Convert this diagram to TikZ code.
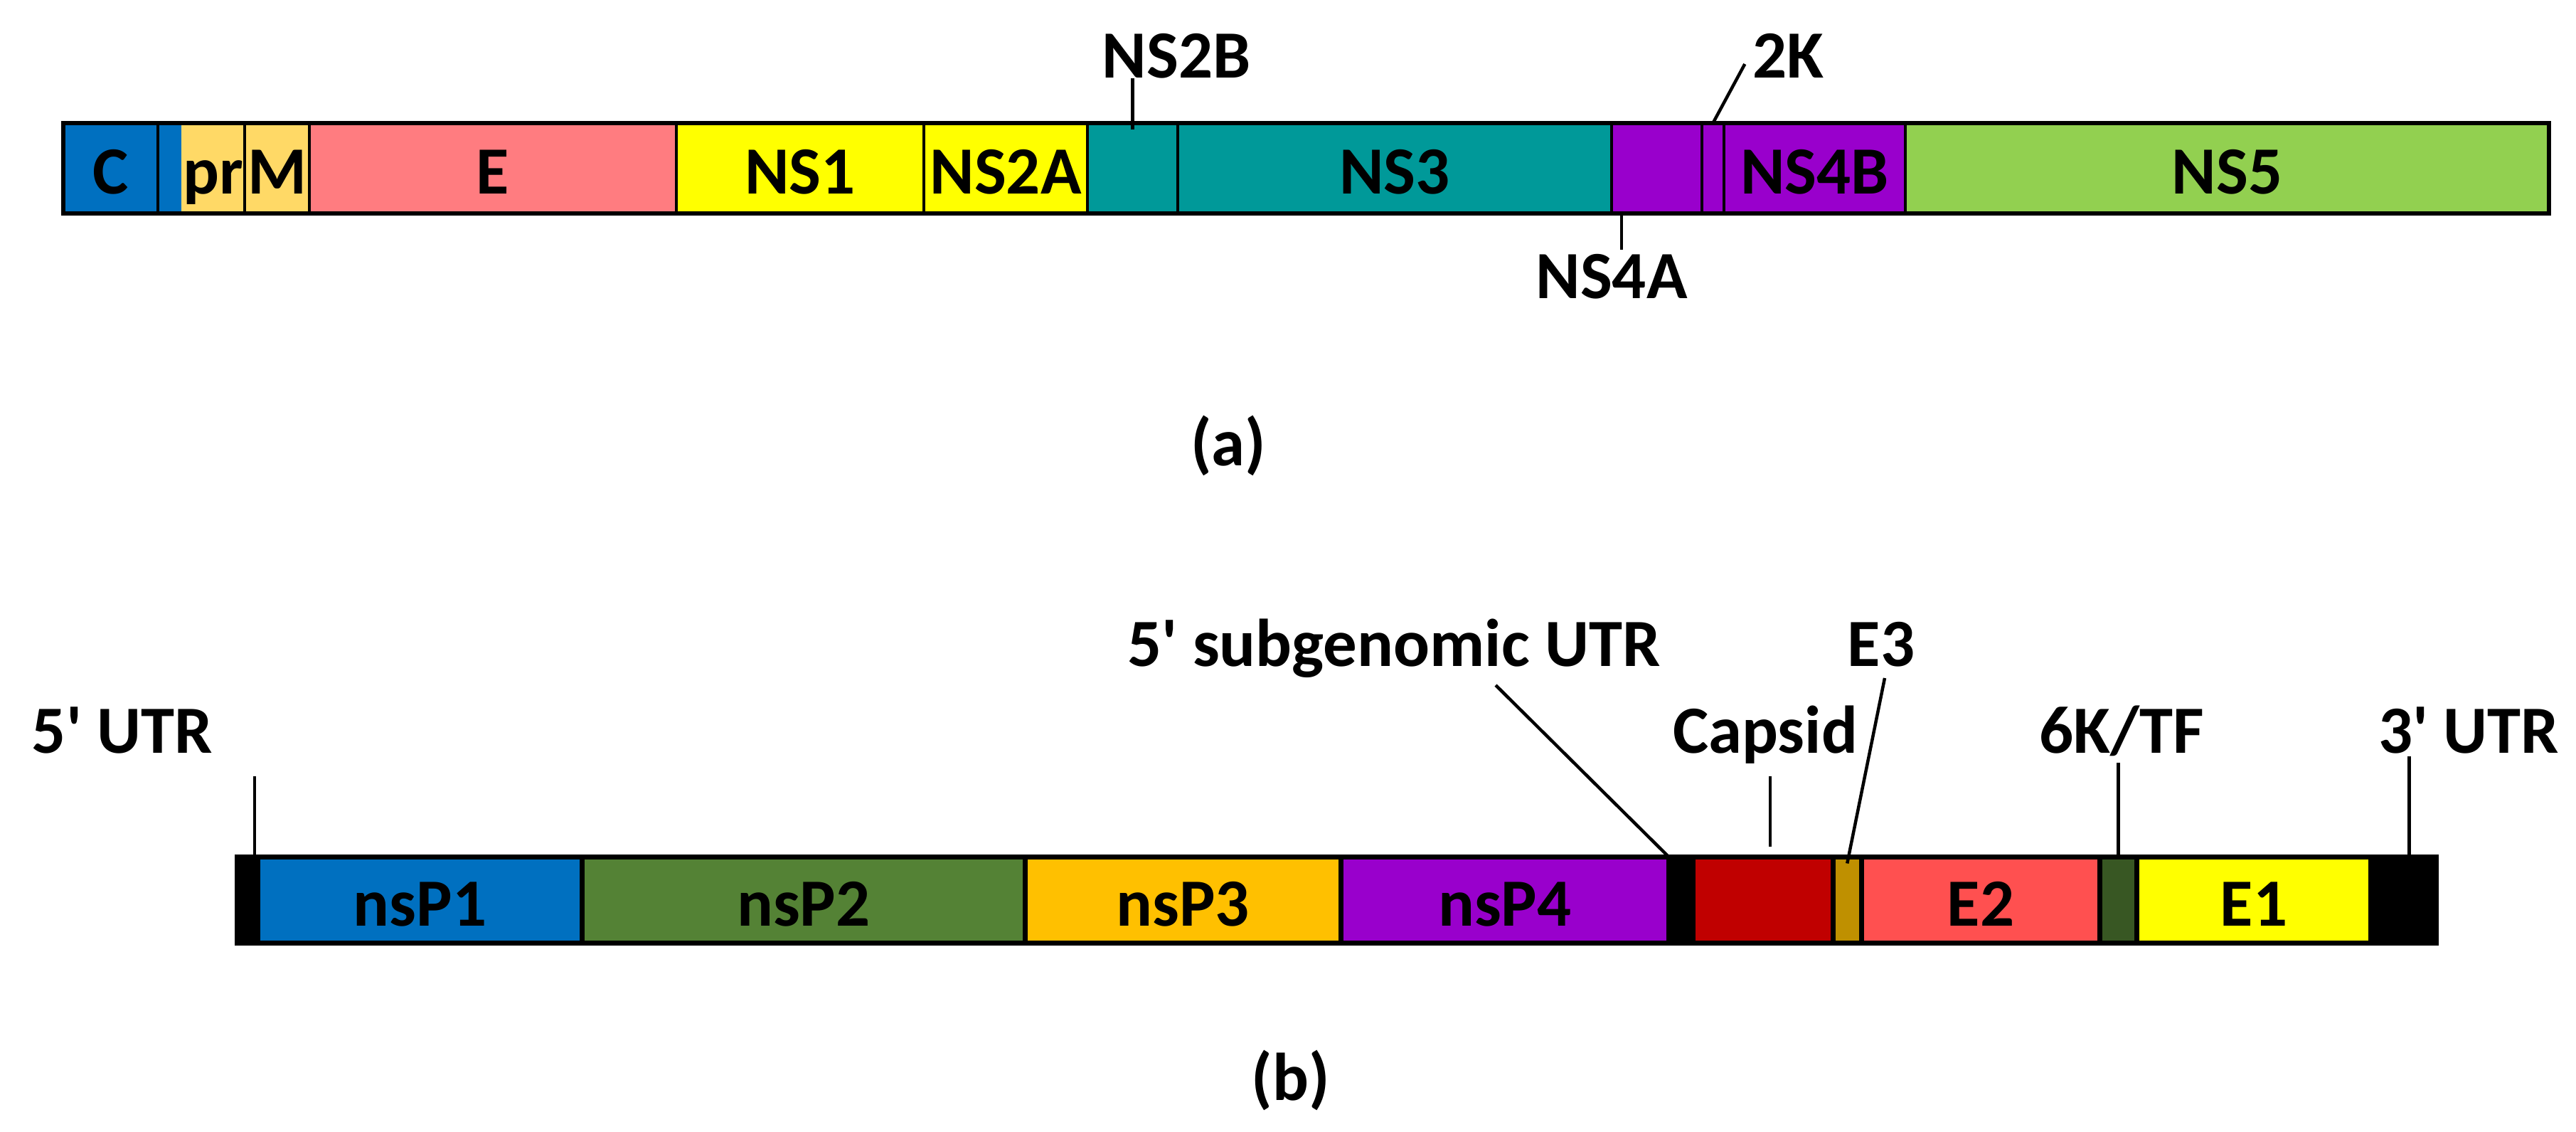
\documentclass[tikz,border=0pt]{standalone}
\usepackage{fontspec}
\setmainfont{Carlito}
\usetikzlibrary{positioning}

\definecolor{cblue}{HTML}{0070C0}
\definecolor{prm}{HTML}{FFD966}
\definecolor{epink}{HTML}{FF7C80}
\definecolor{nsyellow}{HTML}{FFFF00}
\definecolor{nsteal}{HTML}{009999}
\definecolor{purp}{HTML}{9900CC}
\definecolor{nsgreen}{HTML}{92D050}
\definecolor{nspgreen}{HTML}{548235}
\definecolor{nsporange}{HTML}{FFC000}
\definecolor{capred}{HTML}{C00000}
\definecolor{egold}{HTML}{BF9000}
\definecolor{ered}{HTML}{FF5050}
\definecolor{kgreen}{HTML}{385723}

\begin{document}
\begin{tikzpicture}[
    seg/.style={rectangle, draw, line width=0.045cm, inner sep=0pt, outer sep=0pt,
        minimum height=1.27cm, text height=0.73cm, text depth=0pt},
    fillonly/.style={seg, draw=none},
    segb/.style={seg, line width=0.07cm, minimum height=1.21cm},
    lab/.style={inner sep=0pt, anchor=base},
    leader/.style={line width=0.045cm},
    font=\fontsize{27pt}{30pt}\selectfont\bfseries]
    \useasboundingbox (0,0) rectangle (36.22,15.90);

    % (a) flavivirus genome
    \node[seg, fill=cblue, minimum width=1.33cm, anchor=west] (C) at (0.89,13.535) {C};
    \node[fillonly, fill=cblue, minimum width=0.31cm, right=0.02cm of C] (Cx) {};
    \node[fillonly, fill=prm, minimum width=0.89cm, right=0pt of Cx] (pr) {pr};
    \node[seg, fill=prm, minimum width=0.91cm, right=0pt of pr] (M) {M};
    \node[seg, fill=epink, minimum width=5.16cm, right=0pt of M] (E) {E};
    \node[seg, fill=nsyellow, minimum width=3.48cm, right=0pt of E] (NS1) {NS1};
    \node[seg, fill=nsyellow, minimum width=2.30cm, right=0pt of NS1] (NS2A) {NS2A};
    \node[seg, fill=nsteal, minimum width=1.27cm, right=0pt of NS2A] (NS2B) {};
    \node[seg, fill=nsteal, minimum width=6.10cm, right=0pt of NS2B] (NS3) {NS3};
    \node[seg, fill=purp, minimum width=1.27cm, right=0pt of NS3] (NS4A) {};
    \node[seg, fill=purp, minimum width=0.31cm, right=0pt of NS4A] (k2) {};
    \node[seg, fill=purp, minimum width=2.55cm, right=0pt of k2] (NS4B) {NS4B};
    \node[seg, fill=nsgreen, minimum width=9.05cm, right=0pt of NS4B] (NS5) {NS5};
    \draw[line width=0.065cm] (C.north west) rectangle (NS5.south east);

    % labels and leaders (a)
    \node[lab] (tNS2B) at (16.54,14.80) {NS2B};
    \node[lab] (t2K) at (25.14,14.80) {2K};
    \node[lab] (tNS4A) at (22.66,11.70) {NS4A};
    \node (ta) at (17.27,9.64) {(a)};
    \draw[leader] (tNS2B.base -| NS2B.north) -- ([yshift=-0.09cm]NS2B.north);
    \draw[leader] ([shift={(-0.1,0.2)}]t2K.base west) -- (k2.north);
    \draw[leader, shorten >=0.06cm] ([xshift=0.14cm]NS4A.south west) -- ([xshift=0.14cm]NS4A.south west |- tNS4A.north);

    % (b) alphavirus genome
    \node[segb, fill=black, minimum width=0.29cm, anchor=west] (u5) at (3.335,3.25) {};
    \node[segb, fill=cblue, minimum width=4.56cm, right=0pt of u5] (nsP1) {nsP1};
    \node[segb, fill=nspgreen, minimum width=6.225cm, right=0pt of nsP1] (nsP2) {nsP2};
    \node[segb, fill=nsporange, minimum width=4.44cm, right=0pt of nsP2] (nsP3) {nsP3};
    \node[segb, fill=purp, minimum width=4.615cm, right=0pt of nsP3] (nsP4) {nsP4};
    \node[segb, fill=black, minimum width=0.34cm, right=0pt of nsP4] (sg) {};
    \node[segb, fill=capred, minimum width=1.965cm, right=0pt of sg] (Capsid) {};
    \node[segb, fill=egold, minimum width=0.405cm, right=0pt of Capsid] (E3) {};
    \node[segb, fill=ered, minimum width=3.35cm, right=0pt of E3] (E2) {E2};
    \node[segb, fill=kgreen, minimum width=0.52cm, right=0pt of E2] (K6) {};
    \node[segb, fill=nsyellow, minimum width=3.29cm, right=0pt of K6] (E1) {E1};
    \node[segb, fill=black, minimum width=0.92cm, right=0pt of E1] (u3) {};

    % labels and leaders (b)
    \node[lab] (t5u) at (1.72,5.31) {5\textquotesingle{} UTR};
    \node[lab] (tsg) at (19.60,6.53) {5\textquotesingle{} subgenomic UTR};
    \node[lab] (tCap) at (24.82,5.31) {Capsid};
    \node[lab] (tE3) at (26.45,6.53) {E3};
    \node[lab] (t6K) at (29.83,5.31) {6K/TF};
    \node[lab] (t3u) at (34.71,5.31) {3\textquotesingle{} UTR};
    \node (tb) at (18.15,0.72) {(b)};
    \draw[leader, shorten >=0.32cm] ([xshift=0.1cm]u5.north) -- ([xshift=0.1cm]u5.north |- t5u.base);
    \draw[leader] ([shift={(1.43,-0.26)}]tsg.base) -- (nsP4.north east);
    \draw[leader] ([shift={(0.1,-0.32)}]tCap.base -| Capsid.north) -- ([shift={(0.1,0.14)}]Capsid.north);
    \draw[leader] ([shift={(0.05,-0.16)}]tE3.base) -- ([yshift=-0.09cm]E3.north);
    \draw[leader] ([yshift=-0.13cm]t6K.base -| K6.north) -- (K6.north);
    \draw[leader] ([shift={(0.08,-0.04)}]t3u.base -| u3.north) -- ([xshift=0.08cm]u3.north);
\end{tikzpicture}
\end{document}
